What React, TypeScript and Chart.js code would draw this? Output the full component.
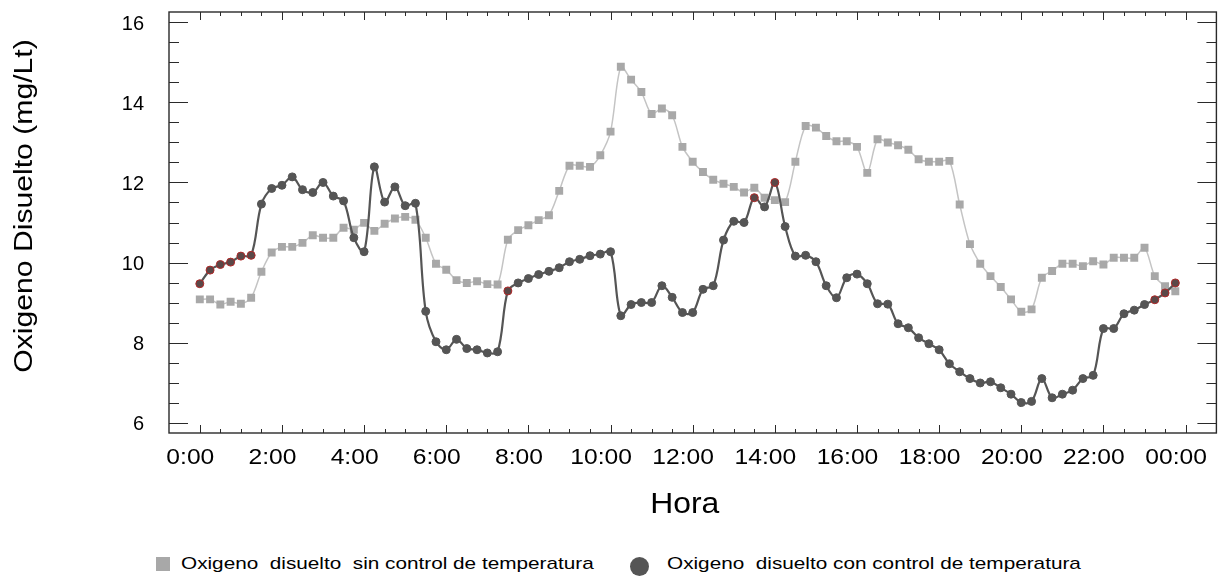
import React, { useEffect, useRef } from "react";
import { Chart, registerables } from "chart.js";

Chart.register(...registerables);

// Sampling every 15 minutes from 0:00 to 23:45 (96 readings per series)
const SAMPLE_STEP_H = 0.25;

// Oxigeno disuelto con control de temperatura (mg/Lt)
const CON_CONTROL = [
  9.47, 9.81, 9.95, 10.01, 10.16, 10.18, 11.46, 11.85, 11.93, 12.14, 11.82, 11.75,
  12.0, 11.66, 11.54, 10.62, 10.27, 12.39, 11.51, 11.89, 11.42, 11.48, 8.78, 8.02,
  7.82, 8.08, 7.85, 7.82, 7.74, 7.77, 9.29, 9.49, 9.6, 9.7, 9.78, 9.87,
  10.02, 10.08, 10.17, 10.21, 10.27, 8.67, 8.95, 9.0, 9.0, 9.42, 9.13, 8.75,
  8.75, 9.33, 9.42, 10.56, 11.03, 11.0, 11.62, 11.39, 12.0, 10.9, 10.16, 10.18,
  10.02, 9.42, 9.12, 9.62, 9.71, 9.47, 8.97, 8.96, 8.47, 8.37, 8.12, 7.97,
  7.82, 7.47, 7.27, 7.1, 6.99, 7.02, 6.87, 6.71, 6.5, 6.53, 7.1, 6.62,
  6.71, 6.81, 7.1, 7.18, 8.35, 8.35, 8.72, 8.81, 8.95, 9.07, 9.24, 9.49,
];

// Oxigeno disuelto sin control de temperatura (mg/Lt)
const SIN_CONTROL = [
  9.08, 9.08, 8.95, 9.02, 8.97, 9.12, 9.77, 10.25, 10.39, 10.39, 10.49, 10.68,
  10.62, 10.62, 10.87, 10.82, 10.99, 10.79, 10.97, 11.1, 11.14, 11.07, 10.62, 9.97,
  9.82, 9.56, 9.49, 9.53, 9.46, 9.45, 10.57, 10.81, 10.93, 11.06, 11.18, 11.79,
  12.42, 12.42, 12.39, 12.68, 13.27, 14.89, 14.57, 14.26, 13.71, 13.85, 13.68, 12.89,
  12.52, 12.26, 12.07, 11.97, 11.89, 11.75, 11.87, 11.62, 11.56, 11.51, 12.52, 13.41,
  13.37, 13.16, 13.03, 13.03, 12.89, 12.24, 13.08, 13.0, 12.93, 12.82, 12.58, 12.52,
  12.52, 12.54, 11.45, 10.46, 9.97, 9.66, 9.39, 9.08, 8.77, 8.83, 9.62, 9.79,
  9.97, 9.97, 9.91, 10.03, 9.95, 10.12, 10.12, 10.12, 10.37, 9.66, 9.41, 9.28,
];

// readings highlighted in red in the original
const RED_POINTS = [0, 1, 2, 3, 4, 5, 30, 54, 56, 93, 94, 95];

const X_TICKS = [0, 2, 4, 6, 8, 10, 12, 14, 16, 18, 20, 22, 24];
const X_TICK_LABELS = ["0:00", "2:00", "4:00", "6:00", "8:00", "10:00", "12:00", "14:00", "16:00", "18:00", "20:00", "22:00", "00:00"];
const X_MINOR_STEP = 0.5;
const Y_TICKS = [6, 8, 10, 12, 14, 16];
const Y_MINOR_STEP = 0.5;

const X_TITLE = "Hora";
const Y_TITLE = "Oxigeno Disuelto (mg/Lt)";
const LEGEND_SIN = "Oxigeno  disuelto  sin control de temperatura";
const LEGEND_CON = "Oxigeno  disuelto con control de temperatura";

const FONT = "'Liberation Sans', Arial, sans-serif";
const W = 1222;
const H = 540;

function drawText(ctx: CanvasRenderingContext2D, text: string, x: number, y: number, size: number, sx: number, align: "left" | "center" | "right") {
  ctx.save();
  ctx.font = `${size}px ${FONT}`;
  ctx.fillStyle = "#000";
  ctx.textBaseline = "alphabetic";
  ctx.textAlign = "left";
  const w = ctx.measureText(text).width * sx;
  const left = align === "center" ? x - w / 2 : align === "right" ? x - w : x;
  ctx.translate(left, y);
  ctx.scale(sx, 1);
  ctx.fillText(text, 0, 0);
  ctx.restore();
}

const framePlugin = {
  id: "frameTicks",
  afterDraw(chart: any) {
    const { ctx, chartArea: a, scales } = chart;
    const xs = scales.x;
    const ys = scales.y;
    ctx.save();
    ctx.strokeStyle = "#2a2a2a";
    ctx.lineWidth = 1;
    ctx.beginPath();
    // y ticks (inward, left and right)
    for (let v = Y_TICKS[0]; v <= Y_TICKS[Y_TICKS.length - 1] + 1e-9; v += Y_MINOR_STEP) {
      const py = Math.round(ys.getPixelForValue(v)) + 0.5;
      const len = Y_TICKS.includes(v) ? 19 : 10;
      ctx.moveTo(a.left, py);
      ctx.lineTo(a.left + len, py);
      ctx.moveTo(a.right, py);
      ctx.lineTo(a.right - len, py);
    }
    // x ticks (inward, bottom and top)
    for (let v = X_TICKS[0]; v <= X_TICKS[X_TICKS.length - 1] + 1e-9; v += X_MINOR_STEP) {
      const px = Math.round(xs.getPixelForValue(v)) + 0.5;
      const len = X_TICKS.includes(v) ? 8 : 4;
      ctx.moveTo(px, a.bottom);
      ctx.lineTo(px, a.bottom - len);
      ctx.moveTo(px, a.top);
      ctx.lineTo(px, a.top + len);
    }
    ctx.stroke();
    ctx.lineWidth = 1.4;
    ctx.strokeRect(a.left, a.top, a.right - a.left, a.bottom - a.top);
    ctx.restore();

    // tick labels
    X_TICKS.forEach((v, i) => {
      drawText(ctx, X_TICK_LABELS[i], xs.getPixelForValue(v) - 9.5, a.bottom + 31, 22, 1.12, "center");
    });
    Y_TICKS.forEach((v) => {
      drawText(ctx, String(v), a.left - 25, ys.getPixelForValue(v) + 7.5, 20, 1.0, "right");
    });
    // titles
    drawText(ctx, X_TITLE, (a.left + a.right) / 2 - 8, a.bottom + 80, 29, 1.1, "center");
    ctx.save();
    ctx.translate(31.7, 206);
    ctx.rotate(-Math.PI / 2);
    drawText(ctx, Y_TITLE, 0, 0, 26, 1.16, "center");
    ctx.restore();
  },
};

export default function App() {
  const ref = useRef<HTMLCanvasElement | null>(null);
  useEffect(() => {
    if (!ref.current) return;
    const con = CON_CONTROL.map((y, i) => ({ x: i * SAMPLE_STEP_H, y }));
    const sin = SIN_CONTROL.map((y, i) => ({ x: i * SAMPLE_STEP_H, y }));
    const chart = new Chart(ref.current, {
      type: "line",
      data: {
        datasets: [
          {
            label: LEGEND_CON,
            data: con,
            borderColor: "#555555",
            borderWidth: 2.2,
            tension: 0.35,
            pointStyle: "circle",
            pointRadius: 4,
            pointBackgroundColor: CON_CONTROL.map((_, i) => (RED_POINTS.includes(i) ? "#5a4848" : "#555555")),
            pointBorderColor: CON_CONTROL.map((_, i) => (RED_POINTS.includes(i) ? "#b02828" : "#555555")),
            pointBorderWidth: 1,
          },
          {
            label: LEGEND_SIN,
            data: sin,
            borderColor: "#c4c4c4",
            borderWidth: 1.5,
            tension: 0.3,
            pointStyle: "rect",
            pointRadius: 5.6,
            pointBackgroundColor: "#a8a8a8",
            pointBorderColor: "#a8a8a8",
            pointBorderWidth: 0,
          },
        ],
      },
      options: {
        animation: false,
        responsive: true,
        maintainAspectRatio: false,
        layout: { padding: { top: 12, right: 1, left: 0, bottom: 0 } },
        plugins: { legend: { display: false }, tooltip: { enabled: false } },
        scales: {
          x: {
            type: "linear",
            min: -0.75,
            max: 24.75,
            grid: { display: false },
            border: { display: false },
            ticks: { display: false },
            afterFit: (s: any) => {
              s.height = H - 433;
            },
          },
          y: {
            min: 5.74,
            max: 16.26,
            grid: { display: false },
            border: { display: false },
            ticks: { display: false },
            afterFit: (s: any) => {
              s.width = 169;
            },
          },
        },
      },
      plugins: [framePlugin],
    });
    return () => chart.destroy();
  }, []);

  const legendText: React.CSSProperties = {
    position: "absolute",
    fontFamily: FONT,
    fontSize: 17,
    lineHeight: "17px",
    whiteSpace: "pre",
    color: "#000",
    transform: "scaleX(1.22)",
    transformOrigin: "left center",
  };

  return (
    <div style={{ position: "absolute", left: 0, top: 0, width: W, height: 576, overflow: "hidden", background: "#fff" }}>
      <div style={{ position: "absolute", left: 0, top: 0, width: W, height: H }}>
        <canvas ref={ref} />
      </div>
      <div style={{ position: "absolute", left: 156, top: 557, width: 14, height: 14, background: "#a8a8a8" }} />
      <div style={{ ...legendText, left: 181, top: 555 }}>{LEGEND_SIN}</div>
      <div style={{ position: "absolute", left: 630, top: 557, width: 19, height: 19, borderRadius: "50%", background: "#555555" }} />
      <div style={{ ...legendText, left: 667, top: 555 }}>{LEGEND_CON}</div>
    </div>
  );
}
